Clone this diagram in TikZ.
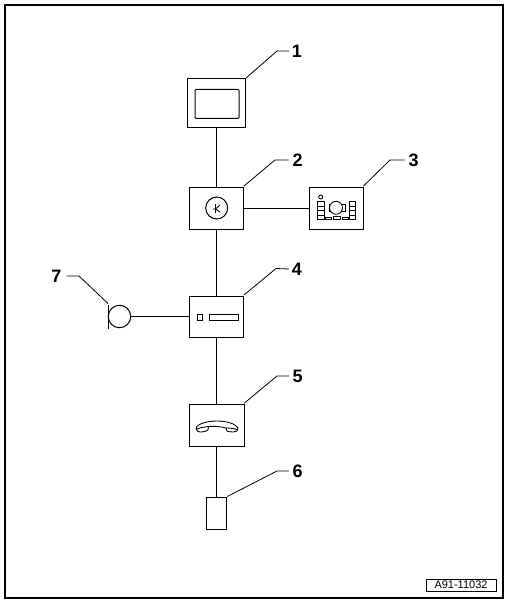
\documentclass[tikz,border=0pt]{standalone}
\usepackage{fontspec}
\setmainfont{Liberation Sans}
\tikzset{
  wire/.style={line width=1pt},
  fine/.style={line width=0.85pt},
  box/.style={draw,line width=1pt,inner sep=0pt,outer sep=0pt,fill=white},
  num/.style={inner sep=0pt,outer sep=0pt,font=\fontsize{18}{18}\selectfont\bfseries},
  leader/.style={line width=0.8pt}
}
\begin{document}
\begin{tikzpicture}[x=1pt,y=-1pt]
\useasboundingbox (0,0) rectangle (508,604);
\fill[white] (0,0) rectangle (508,604);
\draw[line width=2pt] (5,5) rectangle (503,598);
% boxes
\node[box,minimum width=58pt,minimum height=49pt] (b1) at (216.5,103.5) {};
\node[box,minimum width=54pt,minimum height=42pt] (b2) at (216.5,208) {};
\node[box,minimum width=54pt,minimum height=42pt] (b3) at (336,208) {};
\node[box,minimum width=54pt,minimum height=41pt] (b4) at (216.5,316.5) {};
\node[box,minimum width=55pt,minimum height=42pt] (b5) at (216.5,425) {};
\node[box,minimum width=20.5pt,minimum height=32pt] (b6) at (216.5,513.5) {};
\node[draw,circle,line width=1pt,inner sep=0pt,outer sep=0pt,minimum size=22.5pt] (mic) at (119.5,316.5) {};
\node[box] (tag) at (461,585) [minimum width=70pt,minimum height=12pt,font=\fontsize{11}{11}\selectfont] {A91-11032};
% connectors
\draw[wire] (b1.south) -- (b2.north);
\draw[wire] (b2.south) -- (b4.north);
\draw[wire] (b4.south) -- (b5.north);
\draw[wire] (b5.south) -- (b6.north);
\draw[wire] (b2.east) -- (b3.west);
\draw[wire] (mic.east) -- (b4.west);
% labels
\node[num] (n1) at (297,51) {1};
\node[num] (n2) at (297.5,160) {2};
\node[num] (n3) at (413.5,160) {3};
\node[num] (n4) at (297,269) {4};
\node[num] (n5) at (297.5,376) {5};
\node[num] (n6) at (297.5,471) {6};
\node[num] (n7) at (56.5,276) {7};
% leaders
\draw[leader] (b1.north east) ++(0.5,-1) -- (277,51) -- ([xshift=-3pt]n1.west);
\draw[leader] (b2.north east) ++(0.5,-1) -- (275,160) -- ([xshift=-4pt]n2.west);
\draw[leader] (b3.north east) ++(0.5,-1) -- (390,160) -- ([xshift=-4pt]n3.west);
\draw[leader] (b4.north east) ++(0.5,-1) -- (276,268.5) -- ([xshift=-3pt]n4.west);
\draw[leader] (b5.north east) ++(0.5,-1) -- (277,376) -- ([xshift=-3.5pt]n5.west);
\draw[leader] (b6.north east) ++(0.5,-1) -- (277,471) -- ([xshift=-3.5pt]n6.west);
\draw[leader] ([xshift=5pt]n7.east) -- (79,276) -- (108,303.5);
% microphone bar
\draw[wire] (108.5,305) -- (108.5,328.5);
% box 1 screen
\draw[wire,rounded corners=1pt] (195,89.5) rectangle (239,118.5);
% box 2 dial
\draw[wire] (216.7,208) circle[radius=11];
\draw[line width=1pt] (215,204) -- (215,213);
\draw[fine] (212.5,209) -- (215.5,209) -- (220,205);
\draw[fine] (215.5,209) -- (220,212);
% box 3 panel
\draw[fine] (320.7,197) circle[radius=2];
\draw[fine] (317.5,201.5) rectangle (324.5,219.5);
\draw[fine] (317.5,206) -- (324.5,206) (317.5,210.5) -- (324.5,210.5) (317.5,215) -- (324.5,215);
\draw[fine] (349.5,201.5) rectangle (355.5,219.5);
\draw[fine] (349.5,206) -- (355.5,206) (349.5,210.5) -- (355.5,210.5) (349.5,215) -- (355.5,215);
\draw[fine] (329,204.5) rectangle (345,211.5);
\draw[fine,fill=white] (336,207.8) circle[radius=6.5];
\draw[fine] (325.5,217.3) rectangle (331.7,219.5);
\draw[fine] (333.5,216.3) rectangle (340,219.5);
\draw[fine] (342,217.3) rectangle (348,219.5);
% box 4 slots
\draw[wire] (197,314.5) rectangle (202.5,320.5);
\draw[wire] (209.5,314.5) rectangle (238.5,320.5);
% box 5 handset
\draw[fine] (196.5,427) .. controls (198,424) and (207,421) .. (217,421)
  .. controls (227,421) and (236,424) .. (238,428)
  .. controls (238.5,431) and (236,432) .. (233,432)
  .. controls (230,432) and (228,431.5) .. (227,431)
  -- (226,428) .. controls (222,426.5) and (213,426) .. (208.5,426.5)
  -- (208,430) .. controls (205,432) and (200,432.5) .. (198,431.5)
  .. controls (196,430.5) and (196,428.5) .. (196.5,427) -- cycle;
\draw[fine] (197,429) .. controls (200,427.5) and (205,427) .. (208.5,426.5);
\draw[fine] (226,428) .. controls (230,428) and (235,428.5) .. (238,430);
\end{tikzpicture}
\end{document}
